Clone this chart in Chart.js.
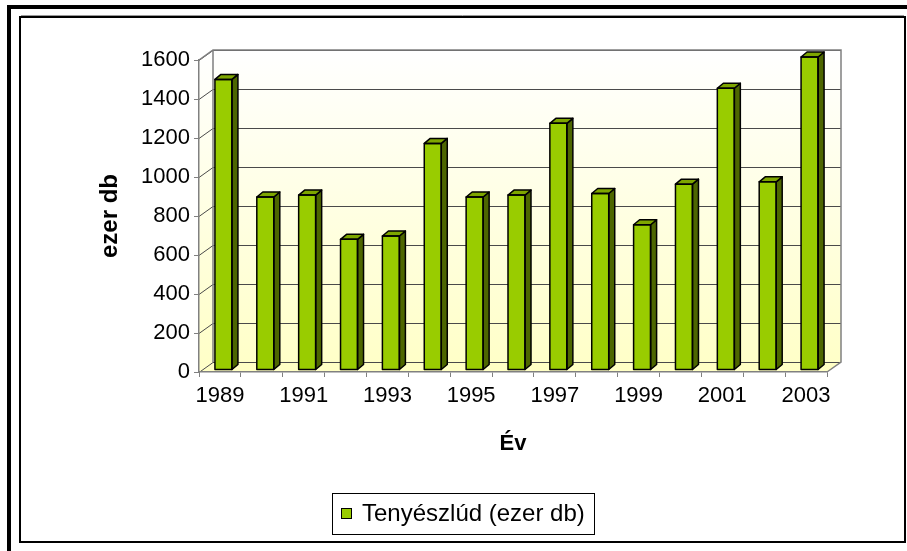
<!DOCTYPE html>
<html><head><meta charset="utf-8">
<script src="https://cdn.jsdelivr.net/npm/chart.js@4/dist/chart.umd.min.js"></script>
<style>html,body{margin:0;padding:0;background:#fff;overflow:hidden}</style>
</head><body>
<canvas id="c" width="907" height="551" style="display:block;width:907px;height:551px"></canvas>
<script>
const years = ['1989','1990','1991','1992','1993','1994','1995','1996','1997','1998','1999','2000','2001','2002','2003'];
const values = [1490, 887, 897, 670, 687, 1162, 887, 897, 1265, 905, 745, 953, 1445, 965, 1605];
const yTicks = [0, 200, 400, 600, 800, 1000, 1200, 1400, 1600];
const seriesLabel = 'Tenyészlúd (ezer db)';
const xTitle = 'Év';
const yTitle = 'ezer db';

const FONT = '"Liberation Sans", Arial, sans-serif';
const DX = 14, DY = -10;       // wall depth
const BDX = 3.5, BDY = -2;     // bar plane offset
const FDX = 6, FDY = -5;       // bar depth

const walls = {
  id: 'walls',
  beforeDraw(chart) {
    const ctx = chart.ctx, ca = chart.chartArea, ys = chart.scales.y;
    const L = ca.left, R = ca.right, T = ca.top, B = ca.bottom;
    ctx.save();
    ctx.fillStyle = '#fff';
    ctx.fillRect(0, 0, chart.width, chart.height);
    ctx.fillStyle = '#000';
    ctx.fillRect(7, 5, 4, chart.height);
    ctx.fillRect(7, 5, chart.width, 4);
    ctx.strokeStyle = '#000'; ctx.lineWidth = 2;
    ctx.strokeRect(20, 17, 885, 525);
    ctx.strokeStyle = '#999'; ctx.lineWidth = 1;
    ctx.beginPath(); ctx.moveTo(21, 15.5); ctx.lineTo(904, 15.5); ctx.stroke();
    const g = ctx.createLinearGradient(0, T + DY, 0, B + DY);
    g.addColorStop(0, '#ffffff'); g.addColorStop(1, '#ffffc8');
    ctx.fillStyle = g;
    ctx.beginPath(); ctx.moveTo(L, T); ctx.lineTo(L + DX, T + DY); ctx.lineTo(L + DX, B + DY); ctx.lineTo(L, B); ctx.closePath(); ctx.fill();
    ctx.fillRect(L + DX, T + DY, R - L, B - T);
    ctx.fillStyle = '#ffffc4';
    ctx.beginPath(); ctx.moveTo(L, B); ctx.lineTo(L + DX, B + DY); ctx.lineTo(R + DX, B + DY); ctx.lineTo(R, B); ctx.closePath(); ctx.fill();
    ctx.strokeStyle = '#4a4a4a'; ctx.lineWidth = 1;
    yTicks.forEach(v => {
      const y = Math.round(ys.getPixelForValue(v)) + 0.5;
      ctx.beginPath(); ctx.moveTo(L, y); ctx.lineTo(L + DX, y + DY); ctx.lineTo(R + DX, y + DY); ctx.stroke();
    });
    ctx.strokeStyle = '#808080'; ctx.lineWidth = 1.5;
    ctx.beginPath();
    ctx.moveTo(L, T); ctx.lineTo(L + DX, T + DY); ctx.lineTo(R + DX, T + DY); ctx.lineTo(R + DX, B + DY); ctx.lineTo(R, B);
    ctx.moveTo(L + DX, T + DY); ctx.lineTo(L + DX, B + DY);
    ctx.stroke();
    ctx.restore();
  },
  beforeDatasetsDraw(chart) {
    chart.ctx.save();
    chart.ctx.translate(BDX, BDY);
  },
  afterDatasetsDraw(chart) {
    const ctx = chart.ctx;
    const meta = chart.getDatasetMeta(0);
    ctx.lineWidth = 1.5; ctx.strokeStyle = '#000'; ctx.lineJoin = 'round';
    meta.data.forEach(bar => {
      const p = bar.getProps(['x', 'y', 'base', 'width'], true);
      const l = p.x - p.width / 2, r = p.x + p.width / 2;
      ctx.fillStyle = '#4d6600';
      ctx.beginPath(); ctx.moveTo(r, p.y); ctx.lineTo(r + FDX, p.y + FDY); ctx.lineTo(r + FDX, p.base + FDY); ctx.lineTo(r, p.base); ctx.closePath(); ctx.fill(); ctx.stroke();
      ctx.fillStyle = '#7ea600';
      ctx.beginPath(); ctx.moveTo(l, p.y); ctx.lineTo(l + FDX, p.y + FDY); ctx.lineTo(r + FDX, p.y + FDY); ctx.lineTo(r, p.y); ctx.closePath(); ctx.fill(); ctx.stroke();
      ctx.strokeRect(l, p.y, p.width, p.base - p.y);
    });
    ctx.restore();
  },
  afterDraw(chart) {
    const ctx = chart.ctx;
    ctx.save();
    ctx.strokeStyle = '#000'; ctx.lineWidth = 1;
    ctx.strokeRect(332.5, 493.5, 262, 41);
    ctx.fillStyle = '#99cc00';
    ctx.fillRect(341, 508, 10, 11);
    ctx.strokeRect(341.5, 508.5, 10, 10);
    ctx.fillStyle = '#000';
    ctx.font = '24px ' + FONT;
    ctx.textBaseline = 'middle';
    ctx.fillText(chart.data.datasets[0].label, 362, 514);
    ctx.restore();
  }
};

new Chart(document.getElementById('c'), {
  type: 'bar',
  data: {
    labels: years,
    datasets: [{
      label: seriesLabel,
      data: values,
      backgroundColor: '#99cc00',
      borderColor: '#000',
      borderWidth: 0,
      categoryPercentage: 1,
      barPercentage: 0.406,
      clip: false
    }]
  },
  options: {
    responsive: false,
    devicePixelRatio: 1,
    animation: false,
    layout: { padding: { left: 0, top: 60, right: 80, bottom: 0 } },
    plugins: { legend: { display: false }, tooltip: { enabled: false } },
    scales: {
      x: {
        grid: { offset: true, drawOnChartArea: false, drawTicks: true, tickLength: 5, color: '#808080' },
        border: { display: true, color: '#808080', width: 1.5 },
        ticks: {
          autoSkip: false, maxRotation: 0, padding: 6, color: '#000',
          font: { family: FONT, size: 22 },
          callback: function(v, i) { return i % 2 === 0 ? this.getLabelForValue(v) : ''; }
        },
        title: { display: true, text: xTitle, color: '#000', font: { family: FONT, size: 22, weight: 'bold' }, padding: { top: 0, bottom: 94 } },
        afterFit(s) { s.height = 179; }
      },
      y: {
        min: 0, max: 1600,
        afterBuildTicks(s) { s.ticks = yTicks.map(v => ({ value: v })); },
        grid: { drawOnChartArea: false, drawTicks: true, tickLength: 5, color: '#808080' },
        border: { display: true, color: '#808080', width: 1.5 },
        ticks: { padding: 4, color: '#000', font: { family: FONT, size: 22 }, callback: v => String(v) },
        title: { display: true, text: yTitle, color: '#000', font: { family: FONT, size: 24, weight: 'bold' }, padding: { top: 96, bottom: 0 } },
        afterFit(s) { s.width = 199; }
      }
    }
  },
  plugins: [walls]
});
</script>
</body></html>
